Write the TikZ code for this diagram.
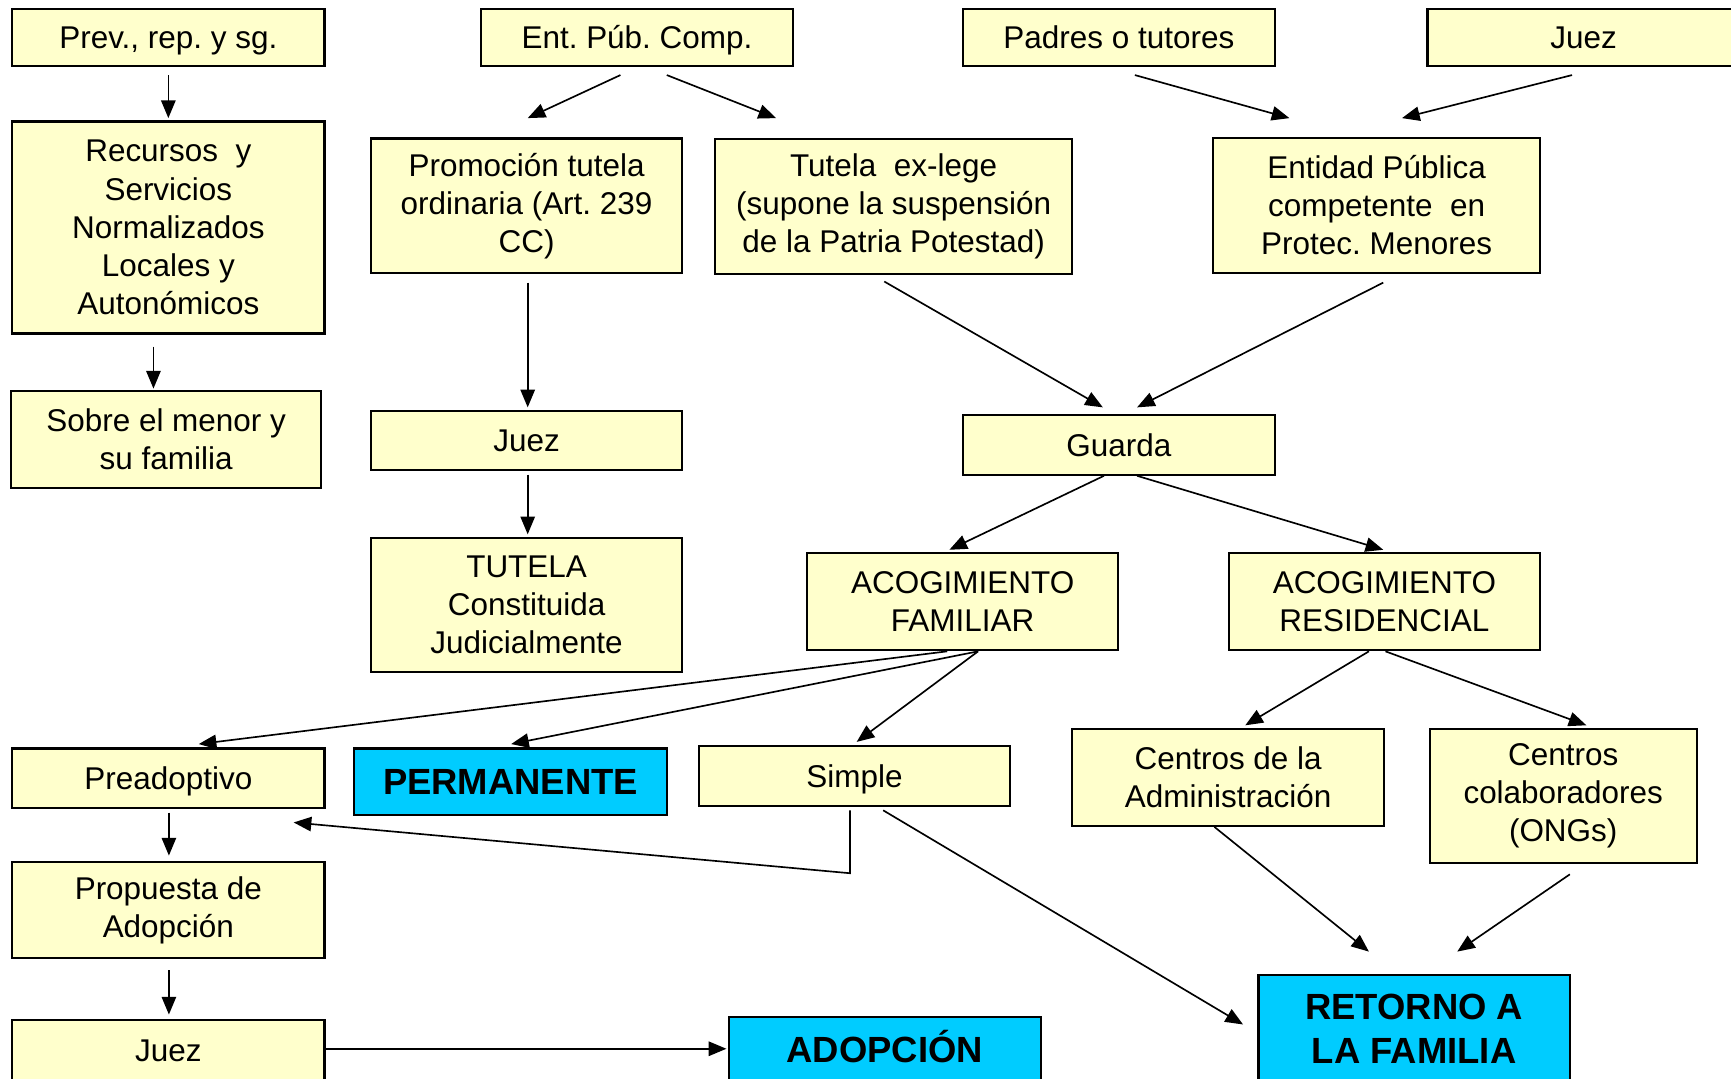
\documentclass[tikz,border=0pt]{standalone}
\usepackage{fontspec}
\setmainfont{Liberation Sans}
\usetikzlibrary{arrows.meta,calc}
\definecolor{boxyellow}{HTML}{FFFFCC}
\definecolor{boxcyan}{HTML}{00CCFF}
\frenchspacing
\begin{document}
\begin{tikzpicture}[x=1pt,y=-1pt,
  ybox/.style={draw=black,line width=2pt,fill=boxyellow,inner sep=0pt,align=center,font=\fontsize{28.5}{34.5}\selectfont\frenchspacing},
  cbox/.style={draw=black,line width=2pt,fill=boxcyan,inner sep=0pt,align=center,font=\fontsize{33}{40}\selectfont\bfseries\frenchspacing},
  oneline/.style={text height=20.4pt,text depth=0pt},
  onebold/.style={text height=23.6pt,text depth=0pt},
  conn/.style={line width=1.5pt,-{Triangle[length=16pt,width=13pt]}}]
\useasboundingbox (0,0) rectangle (1568,977);
\clip (0,0) rectangle (1568,977);
\fill[white] (0,0) rectangle (1568,977);

% top row
\node[ybox,oneline,minimum width=283pt,minimum height=52pt] (prev) at (152.5,34) {Prev., rep. y sg.};
\node[ybox,oneline,minimum width=282pt,minimum height=52pt] (ent) at (577,34) {Ent. Púb. Comp.};
\node[ybox,oneline,minimum width=283pt,minimum height=52pt] (padres) at (1013.5,34) {Padres o tutores};
\node[ybox,oneline,minimum width=283pt,minimum height=52pt] (juezA) at (1434.5,34) {Juez};

% second row
\node[ybox,minimum width=283pt,minimum height=192pt] (rec) at (152.5,206) {Recursos\ \ y\\Servicios\\Normalizados\\Locales y\\Autonómicos};
\node[ybox,minimum width=282pt,minimum height=122pt] (prom) at (477,186.5) {Promoción tutela\\ordinaria (Art. 239\\CC)};
\node[ybox,minimum width=323pt,minimum height=122pt] (tutela) at (809.5,187) {Tutela\ \ ex-lege\\(supone\ la\ suspensión\\de la Patria Potestad)};
\node[ybox,minimum width=296pt,minimum height=122pt] (entidad) at (1247,186) {Entidad Pública\\competente\ \ en\\Protec. Menores};

% third row
\node[ybox,minimum width=281pt,minimum height=88pt] (sobre) at (150.5,398) {Sobre el menor y\\su familia};
\node[ybox,oneline,minimum width=282pt,minimum height=54pt] (juezM) at (477,399) {Juez};
\node[ybox,oneline,minimum width=283pt,minimum height=54pt] (guarda) at (1013.5,403) {Guarda};

% fourth row
\node[ybox,minimum width=282pt,minimum height=122pt] (tutC) at (477,548) {TUTELA\\Constituida\\Judicialmente};
\node[ybox,minimum width=282pt,minimum height=88pt] (afam) at (872,545) {ACOGIMIENTO\\FAMILIAR};
\node[ybox,minimum width=282pt,minimum height=88pt] (ares) at (1254,545) {ACOGIMIENTO\\RESIDENCIAL};

% fifth row
\node[ybox,oneline,minimum width=283pt,minimum height=54pt] (pre) at (152.5,705) {Preadoptivo};
\node[cbox,onebold,minimum width=283pt,minimum height=60pt] (perm) at (462.5,708) {PERMANENTE};
\node[ybox,oneline,minimum width=282pt,minimum height=54pt] (simple) at (774,703) {Simple};
\node[ybox,minimum width=283pt,minimum height=88pt] (cadm) at (1112.5,704) {Centros de la\\Administración};
\node[ybox,minimum width=242pt,minimum height=122pt] (cong) at (1416,721) {Centros\\colaboradores\\(ONGs)};

% bottom
\node[ybox,minimum width=283pt,minimum height=87pt] (prop) at (152.5,824.5) {Propuesta de\\Adopción};
\node[ybox,oneline,minimum width=283pt,minimum height=54pt] (juezB) at (152.5,951) {Juez};
\node[cbox,onebold,minimum width=283pt,minimum height=60pt] (adop) at (801.5,951) {ADOPCIÓN};
\node[cbox,minimum width=282pt,minimum height=98pt] (ret) at (1281,932) {RETORNO A\\LA FAMILIA};

% connectors
\draw[conn] ($(prev.south)+(0,7)$) -- ($(rec.north)+(0,-2)$);
\draw[conn] ($(rec.south)+(-13.5,11)$) -- ($(sobre.north)+(-11.5,-1)$);
\draw[conn] ($(ent.south)+(-15,7)$) -- ($(prom.north)+(1,-17.5)$);
\draw[conn] ($(ent.south)+(27,7)$) -- ($(tutela.north)+(-106.5,-18)$);
\draw[conn] ($(padres.south)+(14.5,7)$) -- ($(entidad.north)+(-79,-17)$);
\draw[conn] ($(juezA.south)+(-10.5,7)$) -- ($(entidad.north)+(23,-17)$);
\draw[conn] ($(prom.south)+(1,7.5)$) -- ($(juezM.north)+(1,-2)$);
\draw[conn] ($(juezM.south)+(1,3)$) -- ($(tutC.north)+(1,-2)$);
\draw[conn] ($(tutela.south)+(-8.5,6)$) -- ($(guarda.north)+(-14.5,-6)$);
\draw[conn] ($(entidad.south)+(6,8)$) -- ($(guarda.north)+(16.5,-6)$);
\draw[conn] ($(guarda.south)+(-13.5,0)$) -- ($(afam.north)+(-12,-2)$);
\draw[conn] ($(guarda.south)+(16.5,0)$) -- ($(ares.north)+(-1,-2)$);
\draw[conn] ($(afam.south)+(-14,0)$) -- ($(pre.north)+(27.5,-3)$);
\draw[conn] ($(afam.south)+(14,0)$) -- ($(perm.north)+(0.5,-3)$);
\draw[conn] ($(afam.south)+(14,0)$) -- ($(simple.north)+(2,-3)$);
\draw[conn] ($(ares.south)+(-14,0)$) -- ($(cadm.north)+(15.5,-2)$);
\draw[conn] ($(ares.south)+(1,0)$) -- ($(cong.north)+(21,-2)$);
\draw[conn] ($(pre.south)+(0.5,3)$) -- ($(prop.north)+(0.5,-5)$);
\draw[conn] ($(simple.south)+(-4,3)$) -- ($(simple.south)+(-4,60)$) -- ($(pre.east)+(-29,40)$);
\draw[conn] ($(simple.south)+(26,3)$) -- ($(ret.west)+(-13,-4)$);
\draw[conn] ($(cadm.south)+(-12.5,0)$) -- ($(ret.north)+(-41,-20)$);
\draw[conn] ($(cong.south)+(6,9)$) -- ($(ret.north)+(39,-20)$);
\draw[conn] ($(prop.south)+(0.5,10)$) -- ($(juezB.north)+(0.5,-4)$);
\draw[conn] ($(juezB.east)+(-2,-1)$) -- ($(adop.west)+(-1,-1)$);
\end{tikzpicture}
\end{document}
